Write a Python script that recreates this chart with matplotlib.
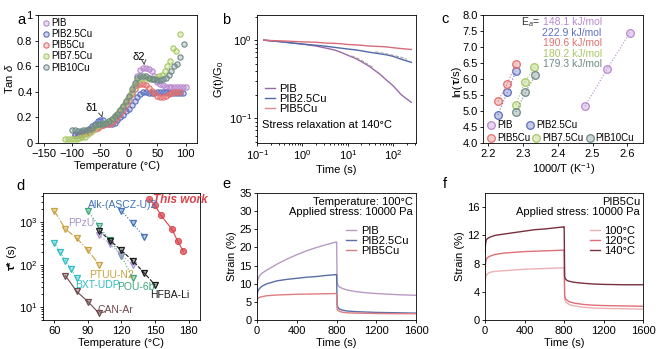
import numpy as np
import matplotlib
matplotlib.use("Agg")
import matplotlib.pyplot as plt
from matplotlib.colors import to_rgba
from matplotlib.lines import Line2D

plt.rcParams['font.family'] = ['Liberation Sans', 'DejaVu Sans']
plt.rcParams['mathtext.fontset'] = 'custom'
plt.rcParams['mathtext.rm'] = 'Liberation Sans'
plt.rcParams['mathtext.it'] = 'Liberation Sans:italic'
plt.rcParams['mathtext.bf'] = 'Liberation Sans:bold'
plt.rcParams['font.size'] = 8
plt.rcParams['axes.linewidth'] = 0.6
plt.rcParams['xtick.major.width'] = 0.6
plt.rcParams['ytick.major.width'] = 0.6
plt.rcParams['xtick.major.size'] = 2.5
plt.rcParams['ytick.major.size'] = 2.5
plt.rcParams['xtick.minor.size'] = 1.5
plt.rcParams['ytick.minor.size'] = 1.5
plt.rcParams['xtick.major.pad'] = 1.5
plt.rcParams['ytick.major.pad'] = 1.5
plt.rcParams['axes.labelpad'] = 1.5

# ---------------- data ----------------
# panel a : tan delta
a_names = ['PIB', 'PIB2.5Cu', 'PIB5Cu', 'PIB7.5Cu', 'PIB10Cu']
a_colors = ['#b98ad0', '#5b6fc0', '#e37070', '#a8c864', '#6f8a88']
T_pib = [-95, -90, -85, -80, -75, -70, -65, -60, -55, -50, -45, -40, -35, -30, -25, -20, -15, -10, -5, 0,
         5, 10, 15, 20, 25, 30, 35, 40, 45, 50, 55, 60, 65, 70, 75, 80, 85, 90, 95, 100]
tan_pib = [0.07, 0.07, 0.075, 0.08, 0.09, 0.10, 0.11, 0.12, 0.13, 0.14, 0.14, 0.15, 0.16, 0.18, 0.20, 0.22, 0.25, 0.28, 0.32, 0.36,
           0.40, 0.45, 0.52, 0.57, 0.59, 0.59, 0.58, 0.56, 0.52, 0.48, 0.46, 0.45, 0.44, 0.44, 0.44, 0.44, 0.44, 0.44, 0.44, 0.44]
T_25 = [-95, -90, -85, -80, -75, -70, -65, -60, -55, -50, -45, -40, -35, -30, -25, -20, -15, -10, -5, 0,
        5, 10, 15, 20, 25, 30, 35, 40, 45, 50, 55, 60, 65, 70, 75, 80, 85, 90, 95]
tan_25 = [0.06, 0.06, 0.07, 0.08, 0.09, 0.11, 0.13, 0.15, 0.17, 0.18, 0.18, 0.16, 0.15, 0.15, 0.16, 0.18, 0.20, 0.22, 0.25, 0.27,
          0.30, 0.33, 0.36, 0.38, 0.40, 0.40, 0.39, 0.39, 0.39, 0.40, 0.40, 0.40, 0.40, 0.39, 0.39, 0.39, 0.39, 0.39, 0.39]
T_5 = [-85, -80, -75, -70, -65, -60, -55, -50, -45, -40, -35, -30, -25, -20, -15, -10, -5, 0,
       5, 10, 15, 20, 25, 30, 35, 40, 45, 50, 55, 60, 65, 70, 75, 80, 85, 90]
tan_5 = [0.06, 0.07, 0.08, 0.09, 0.10, 0.11, 0.12, 0.13, 0.14, 0.15, 0.15, 0.16, 0.18, 0.20, 0.23, 0.26, 0.30, 0.34,
         0.38, 0.42, 0.45, 0.46, 0.46, 0.45, 0.43, 0.41, 0.39, 0.37, 0.36, 0.36, 0.37, 0.38, 0.39, 0.40, 0.40, 0.40]
T_75 = [-112, -107, -102, -97, -92, -87, -82, -77, -72, -67, -62, -57, -52, -47, -42, -37, -32, -27, -22, -17,
        -12, -7, -2, 3, 8, 13, 18, 23, 28, 33, 38, 43, 48, 53, 58, 63, 68, 73, 78, 83, 90]
tan_75 = [0.035, 0.035, 0.035, 0.035, 0.035, 0.04, 0.045, 0.05, 0.07, 0.09, 0.11, 0.13, 0.14, 0.15, 0.16, 0.17, 0.18, 0.20, 0.22, 0.25,
          0.28, 0.31, 0.35, 0.39, 0.44, 0.48, 0.50, 0.51, 0.51, 0.51, 0.50, 0.50, 0.51, 0.52, 0.53, 0.56, 0.60, 0.64, 0.74, 0.72, 0.85]
T_10 = [-100, -95, -90, -85, -80, -75, -70, -65, -60, -55, -50, -45, -40, -35, -30, -25, -20, -15, -10, -5, 0,
        5, 10, 15, 20, 25, 30, 35, 40, 45, 50, 55, 60, 65, 70, 75, 80, 85, 90, 97]
tan_10 = [0.10, 0.10, 0.095, 0.095, 0.10, 0.10, 0.11, 0.12, 0.14, 0.15, 0.15, 0.15, 0.16, 0.17, 0.19, 0.21, 0.23, 0.26, 0.29, 0.33, 0.37,
          0.42, 0.47, 0.51, 0.52, 0.52, 0.52, 0.51, 0.50, 0.50, 0.49, 0.49, 0.50, 0.51, 0.53, 0.56, 0.60, 0.62, 0.67, 0.77]
a_T = [T_pib, T_25, T_5, T_75, T_10]
a_tan = [tan_pib, tan_25, tan_5, tan_75, tan_10]

# panel b : stress relaxation
b_names = ['PIB', 'PIB2.5Cu', 'PIB5Cu']
b_colors = ['#9a6aa8', '#4f6aa8', '#e08a94']
b_line_colors = ['#9a6aa8', '#4f6aa8', '#d86a7a']
t_b = [0.14, 0.2, 0.3, 0.5, 0.7, 1, 2, 3, 5, 7, 10, 15, 20, 30, 50, 70, 100, 150, 250]
G_pib = [1.0, 0.98, 0.96, 0.93, 0.91, 0.89, 0.84, 0.80, 0.75, 0.70, 0.64, 0.58, 0.53, 0.46, 0.37, 0.31, 0.26, 0.20, 0.16]
G_25 = [1.0, 0.98, 0.96, 0.93, 0.91, 0.89, 0.86, 0.84, 0.81, 0.79, 0.77, 0.75, 0.73, 0.70, 0.67, 0.65, 0.62, 0.57, 0.52]
G_5 = [1.0, 0.99, 0.98, 0.97, 0.96, 0.95, 0.94, 0.92, 0.91, 0.90, 0.88, 0.87, 0.86, 0.84, 0.83, 0.82, 0.80, 0.78, 0.76]
b_G = [G_pib, G_25, G_5]
# fitted curves (grey dashed)
fit_t1 = [12, 18, 25, 35]
fit_G1 = [0.63, 0.57, 0.51, 0.45]
fit_t2 = [40, 60, 90, 140, 200]
fit_G2 = [0.71, 0.68, 0.65, 0.61, 0.57]

# panel c : Arrhenius
c_names = ['PIB', 'PIB2.5Cu', 'PIB5Cu', 'PIB7.5Cu', 'PIB10Cu']
c_colors = ['#b98ad0', '#5b6fc0', '#e37070', '#a8c864', '#6f8a88']
c_x = [[2.478, 2.541, 2.607], [2.228, 2.255, 2.280], [2.228, 2.255, 2.280],
       [2.280, 2.305, 2.333], [2.280, 2.307, 2.335]]
c_y = [[5.15, 6.30, 7.45], [4.88, 5.58, 6.25], [5.30, 5.85, 6.48],
       [5.20, 5.90, 6.38], [4.97, 5.58, 6.12]]
c_Ea = ['148.1', '222.9', '190.6', '180.2', '179.3']

# panel d : literature comparison
d_names = ['This work', 'Alk-(ASCZ-U)2', 'PTUU-N2', 'POU-6b', 'PPzU', 'HFBA-Li', 'BXT-UDP', 'CAN-Ar']
d_colors = ['#d9434b', '#3f72b5', '#c9a23e', '#3aa57a', '#a593cf', '#1a1a1a', '#2fbcc4', '#6e4a4d']
d_T = [[145, 150, 155, 165, 170, 175], [120, 130, 140], [60, 70, 80, 90, 100],
       [90, 100, 110, 120, 130], [100, 110, 120, 130], [100, 110, 120, 130, 140, 150],
       [60, 65, 70, 75, 80], [70, 80, 90, 100]]
d_tau = [[3400, 2500, 1450, 680, 360, 210], [1840, 930, 455], [1850, 680, 420, 220, 100],
         [1850, 790, 370, 160, 48], [500, 300, 165, 100], [630, 365, 215, 124, 65, 33],
         [330, 200, 124, 78, 48], [55, 23.5, 13.6, 7.2]]
d_ls = ['-', ':', '-.', ':', ':', '--', ':', '-']
d_lab_pos = [(148, 3300), (121, 2550), (91, 58), (116, 30), (96, 960), (146, 19), (79, 34), (99, 8.8)]
d_lab_ha = ['left', 'center', 'left', 'left', 'right', 'left', 'left', 'left']

# panel e : creep, different samples at 100 C
e_names = ['PIB', 'PIB2.5Cu', 'PIB5Cu']
e_colors = ['#b89ac4', '#5a6ea6', '#e07c80']
t_load = [0, 2, 5, 10, 20, 40, 60, 100, 200, 300, 400, 500, 600, 700, 795]
t_rec = [800, 805, 815, 830, 850, 900, 1000, 1100, 1200, 1400, 1600]
e_pib_load = [8.5, 10.2, 10.8, 11.4, 12.0, 12.7, 13.1, 13.8, 15.4, 16.8, 18.0, 19.1, 20.0, 20.8, 21.5]
e_pib_rec = [21.5, 10.2, 9.5, 9.1, 8.8, 8.3, 7.8, 7.5, 7.3, 7.0, 6.8]
e_25_load = [6.0, 7.2, 7.7, 8.1, 8.6, 9.1, 9.5, 10.0, 10.8, 11.2, 11.5, 11.8, 12.0, 12.3, 12.5]
e_25_rec = [12.5, 4.2, 3.4, 3.0, 2.8, 2.5, 2.3, 2.2, 2.1, 2.0, 1.9]
e_5_load = [4.8, 5.5, 5.8, 6.0, 6.2, 6.4, 6.5, 6.7, 6.9, 7.0, 7.1, 7.15, 7.2, 7.25, 7.3]
e_5_rec = [7.3, 3.0, 2.6, 2.4, 2.2, 2.0, 1.9, 1.85, 1.8, 1.75, 1.75]
e_load = [e_pib_load, e_25_load, e_5_load]
e_rec = [e_pib_rec, e_25_rec, e_5_rec]

# panel f : creep of PIB5Cu at different temperatures
f_names = ['100°C', '120°C', '140°C']
f_colors = ['#eeb0b4', '#df6f78', '#7a2f3e']
f_100_load = [4.8, 5.6, 6.0, 6.3, 6.5, 6.7, 6.8, 6.9, 7.0, 7.1, 7.2, 7.25, 7.3, 7.35, 7.4]
f_100_rec = [7.4, 3.0, 2.6, 2.4, 2.2, 2.0, 1.8, 1.7, 1.65, 1.6, 1.55]
f_120_load = [6.5, 7.8, 8.2, 8.5, 8.8, 9.0, 9.1, 9.3, 9.5, 9.6, 9.7, 9.75, 9.8, 9.85, 9.9]
f_120_rec = [9.9, 3.4, 3.0, 2.8, 2.6, 2.4, 2.2, 2.1, 2.05, 2.0, 1.95]
f_140_load = [9.5, 10.5, 10.9, 11.3, 11.5, 11.7, 11.8, 12.0, 12.2, 12.4, 12.6, 12.8, 12.9, 13.05, 13.2]
f_140_rec = [13.2, 6.1, 5.8, 5.6, 5.5, 5.35, 5.2, 5.1, 5.05, 5.0, 5.0]
f_load = [f_100_load, f_120_load, f_140_load]
f_rec = [f_100_rec, f_120_rec, f_140_rec]

# ---------------- figure ----------------
fig = plt.figure(figsize=(6.61, 3.49), dpi=100)
axa = fig.add_axes([0.0575, 0.590, 0.2405, 0.367])
axb = fig.add_axes([0.389, 0.590, 0.2405, 0.367])
axc = fig.add_axes([0.731, 0.590, 0.242, 0.367])
axd = fig.add_axes([0.065, 0.083, 0.2375, 0.364])
axe = fig.add_axes([0.389, 0.083, 0.2405, 0.364])
axf = fig.add_axes([0.734, 0.083, 0.239, 0.364])

for ax in [axa, axb, axc, axd, axe, axf]:
    ax.tick_params(which='both', direction='out', labelsize=8)


def chain_ylabel(ax, x, y0, parts):
    # vertical label built from pieces (text, bold), read bottom to top
    prev = None
    for s, bold in parts:
        w = 'bold' if bold else 'normal'
        if prev is None:
            prev = ax.text(x, y0, s, transform=ax.transAxes, rotation=90, fontweight=w,
                           ha='center', va='bottom', fontsize=8)
        else:
            prev = ax.annotate(s, xy=(0.5, 1.0), xycoords=prev, rotation=90, fontweight=w,
                               ha='center', va='bottom', fontsize=8)


# panel letters
for x, y, s in [(0.027, 0.93, 'a'), (0.336, 0.93, 'b'), (0.668, 0.935, 'c'),
                (0.025, 0.455, 'd'), (0.336, 0.46, 'e'), (0.670, 0.46, 'f')]:
    fig.text(x, y, s, fontsize=10.5)

# a
for T, v, c, n in zip(a_T, a_tan, a_colors, a_names):
    axa.plot(T, v, 'o', ms=3.8, mfc=to_rgba(c, 0.3), mec=c, mew=0.8, label=n)
axa.set_xlim(-160, 120)
axa.set_ylim(0, 1)
axa.set_xticks([-150, -100, -50, 0, 50, 100])
axa.set_yticks([0, 0.2, 0.4, 0.6, 0.8, 1])
axa.set_yticklabels(['0', '0.2', '0.4', '0.6', '0.8', '1'])
axa.set_xlabel('Temperature (°C)')
axa.set_ylabel(r'Tan $\delta$')
axa.legend(loc='upper left', frameon=False, fontsize=7, handletextpad=0.1,
           borderaxespad=0.2, labelspacing=0.12, handlelength=1.0, borderpad=0.1)
axa.annotate('δ1', xy=(-47, 0.2), xytext=(-76, 0.25), fontsize=8,
             arrowprops=dict(arrowstyle='->', lw=0.6, color='#333333', connectionstyle='arc3,rad=-0.3'))
axa.annotate('δ2', xy=(27, 0.61), xytext=(6, 0.65), fontsize=8,
             arrowprops=dict(arrowstyle='->', lw=0.6, color='#333333', connectionstyle='arc3,rad=-0.3'))

# b
for G, lc in zip(b_G, b_line_colors):
    axb.plot(t_b, G, '-', color=lc, lw=1.0)
axb.plot(fit_t1, fit_G1, '--', color='#999999', lw=0.7)
axb.plot(fit_t2, fit_G2, '--', color='#999999', lw=0.7)
axb.set_xscale('log')
axb.set_yscale('log')
axb.set_xlim(0.1, 320)
axb.set_ylim(0.048, 2.1)
axb.set_xlabel('Time (s)')
axb.set_ylabel('G(t)/G$_0$')
b_handles = [Line2D([], [], color=c, lw=1.0) for c in b_colors]
axb.legend(b_handles, b_names, loc='lower left', bbox_to_anchor=(0.0, 0.17), frameon=False,
           fontsize=8, handlelength=0.9, handletextpad=0.4, labelspacing=0.0, borderpad=0.2)
axb.text(0.03, 0.14, 'Stress relaxation at 140°C', transform=axb.transAxes, fontsize=8, va='center')

# c
for x, y, c in zip(c_x, c_y, c_colors):
    axc.plot(x, y, ':', color=c, lw=0.8)
    axc.plot(x, y, 'o', ms=5.5, mfc=to_rgba(c, 0.35), mec=c, mew=0.9)
axc.set_xlim(2.186, 2.645)
axc.set_ylim(4.0, 8.0)
axc.set_xticks([2.2, 2.3, 2.4, 2.5, 2.6])
axc.set_yticks(np.arange(4.0, 8.01, 0.5))
axc.yaxis.set_major_formatter(matplotlib.ticker.FormatStrFormatter('%.1f'))
axc.set_xlabel('1000/T (K$^{-1}$)')
chain_ylabel(axc, -0.165, 0.36, [('ln(', False), ('τ', True), ('/s)', False)])
axc.text(2.294, 7.78, 'E$_a$=', fontsize=7.5, color='#333333', va='center')
for i, (e, c) in enumerate(zip(c_Ea, c_colors)):
    axc.text(2.526, 7.78 - i * 0.33, e + ' kJ/mol', fontsize=7.5, color=c, ha='right', va='center')
c_h = [Line2D([], [], ls='', marker='o', ms=5.5, mfc=to_rgba(c, 0.35), mec=c, mew=0.9) for c in c_colors]
leg1 = axc.legend(c_h[:2], c_names[:2], loc='lower left', bbox_to_anchor=(0.0, 0.08), ncol=2,
                  frameon=False, fontsize=7, handletextpad=0.05, columnspacing=1.3,
                  borderpad=0.1, borderaxespad=0.15, handlelength=1.1)
axc.add_artist(leg1)
axc.legend(c_h[2:], c_names[2:], loc='lower left', bbox_to_anchor=(0.0, -0.02), ncol=3,
           frameon=False, fontsize=7, handletextpad=0.05, columnspacing=0.1,
           borderpad=0.1, borderaxespad=0.15, handlelength=1.1)

# d
for i, (T, v, c, ls, n) in enumerate(zip(d_T, d_tau, d_colors, d_ls, d_names)):
    axd.plot(T, v, ls, color=c, lw=0.8)
    x, y = d_lab_pos[i]
    if i == 0:
        axd.plot(T, v, 'o', ms=4.5, mfc=to_rgba(c, 0.75), mec=c, mew=0.6)
        axd.text(x, y, n, color=c, fontsize=8.5, fontweight='bold', fontstyle='italic',
                 ha='left', va='center')
    else:
        axd.plot(T, v, 'v', ms=5, mfc=to_rgba(c, 0.35), mec=c, mew=0.9)
        axd.text(x, y, n, color=c, fontsize=7.5, ha=d_lab_ha[i], va='center')
axd.set_yscale('log')
axd.set_xlim(50, 190)
axd.set_ylim(5, 4800)
axd.set_xticks([60, 90, 120, 150, 180])
axd.set_xlabel('Temperature (°C)')
chain_ylabel(axd, -0.2, 0.39, [('τ*', True), (' (s)', False)])

# e
for ld, rc, c in zip(e_load, e_rec, e_colors):
    axe.plot(t_load + t_rec, ld + rc, '-', color=c, lw=1.0)
axe.set_xlim(0, 1600)
axe.set_ylim(0, 35)
axe.set_xticks([0, 400, 800, 1200, 1600])
axe.set_yticks(np.arange(0, 36, 5))
axe.set_xlabel('Time (s)')
axe.set_ylabel('Strain (%)')
axe.text(0.98, 0.97, 'Temperature: 100°C\nApplied stress: 10000 Pa', transform=axe.transAxes,
         ha='right', va='top', fontsize=8, linespacing=1.0)
e_h = [Line2D([], [], color=c, lw=1.0) for c in e_colors]
axe.legend(e_h, e_names, loc='upper right', bbox_to_anchor=(1.0, 0.8), frameon=False,
           fontsize=8, handlelength=0.9, handletextpad=0.4, labelspacing=0.0, borderpad=0.2)

# f
for ld, rc, c in zip(f_load, f_rec, f_colors):
    axf.plot(t_load + t_rec, ld + rc, '-', color=c, lw=1.0)
axf.set_xlim(0, 1600)
axf.set_ylim(0, 18)
axf.set_xticks([0, 400, 800, 1200, 1600])
axf.set_yticks([0, 4, 8, 12, 16])
axf.set_xlabel('Time (s)')
axf.set_ylabel('Strain (%)')
axf.text(0.98, 0.97, 'PIB5Cu\nApplied stress: 10000 Pa', transform=axf.transAxes,
         ha='right', va='top', fontsize=8, linespacing=1.0)
f_h = [Line2D([], [], color=c, lw=1.0) for c in f_colors]
axf.legend(f_h, f_names, loc='upper right', bbox_to_anchor=(1.0, 0.8), frameon=False,
           fontsize=8, handlelength=0.9, handletextpad=0.4, labelspacing=0.0, borderpad=0.2)

fig.savefig('out.png', dpi=100)
